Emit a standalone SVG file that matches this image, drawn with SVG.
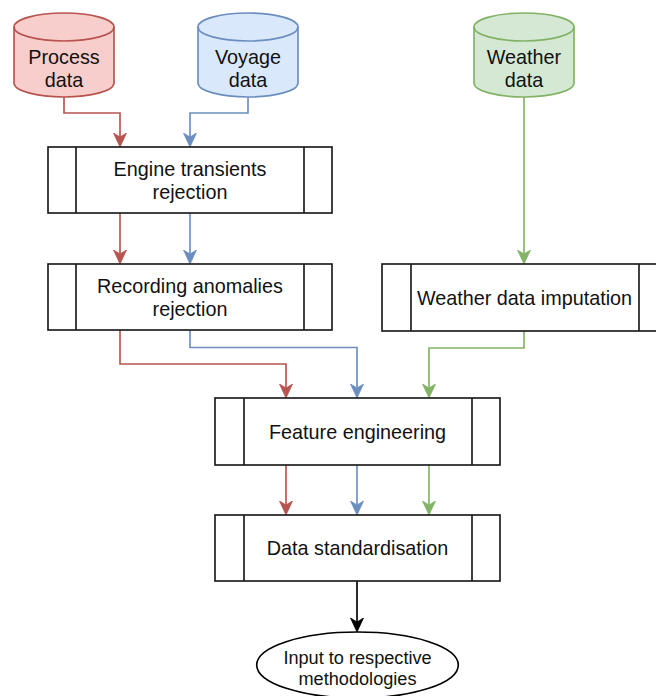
<svg xmlns="http://www.w3.org/2000/svg" width="656" height="696" viewBox="0 0 656 696">
  <style>
    .lbl { font-family: "Liberation Sans", Arial, Helvetica, sans-serif; font-size: 19.8px; fill: #111; text-anchor: middle; }
    .small { font-size: 18.15px; }
    .proc { fill: #fff; stroke: #1a1a1a; stroke-width: 1.65; }
    .edge { fill: none; stroke-width: 1.65; }
    .red { stroke: #b85450; }
    .blue { stroke: #6c8ebf; }
    .green { stroke: #82b366; }
    .black { stroke: #000; }
  </style>
  <defs>
    <marker id="arrRed" viewBox="0 0 14 14" markerUnits="userSpaceOnUse" markerWidth="14" markerHeight="14" refX="4" refY="7" orient="auto">
      <path d="M0,0.5 L14,7 L0,13.5 L4,7 Z" fill="#b85450" stroke="#b85450" stroke-width="0.8"/>
    </marker>
    <marker id="arrBlue" viewBox="0 0 14 14" markerUnits="userSpaceOnUse" markerWidth="14" markerHeight="14" refX="4" refY="7" orient="auto">
      <path d="M0,0.5 L14,7 L0,13.5 L4,7 Z" fill="#6c8ebf" stroke="#6c8ebf" stroke-width="0.8"/>
    </marker>
    <marker id="arrGreen" viewBox="0 0 14 14" markerUnits="userSpaceOnUse" markerWidth="14" markerHeight="14" refX="4" refY="7" orient="auto">
      <path d="M0,0.5 L14,7 L0,13.5 L4,7 Z" fill="#82b366" stroke="#82b366" stroke-width="0.8"/>
    </marker>
    <marker id="arrBlack" viewBox="0 0 14 14" markerUnits="userSpaceOnUse" markerWidth="14" markerHeight="14" refX="4" refY="7" orient="auto">
      <path d="M0,0.5 L14,7 L0,13.5 L4,7 Z" fill="#000" stroke="#000" stroke-width="0.8"/>
    </marker>
  </defs>

  <!-- connectors (line ends stop 10px short; the arrow tip reaches the target) -->
  <g id="connectors">
    <path class="edge red" d="M64,97 V113 H120 V137" marker-end="url(#arrRed)"/>
    <path class="edge blue" d="M248,97 V113 H190 V137" marker-end="url(#arrBlue)"/>
    <path class="edge red" d="M120,213 V254" marker-end="url(#arrRed)"/>
    <path class="edge blue" d="M190,213 V254" marker-end="url(#arrBlue)"/>
    <path class="edge green" d="M524,97 V254" marker-end="url(#arrGreen)"/>
    <path class="edge red" d="M120,330 V364 H286 V388" marker-end="url(#arrRed)"/>
    <path class="edge blue" d="M190,330 V347.5 H357 V388" marker-end="url(#arrBlue)"/>
    <path class="edge green" d="M524,331 V348 H429 V388" marker-end="url(#arrGreen)"/>
    <path class="edge red" d="M286,465 V505" marker-end="url(#arrRed)"/>
    <path class="edge blue" d="M357,465 V505" marker-end="url(#arrBlue)"/>
    <path class="edge green" d="M429,465 V505" marker-end="url(#arrGreen)"/>
    <path class="edge black" d="M357,581 V622" marker-end="url(#arrBlack)"/>
  </g>

  <!-- data sources -->
  <g id="process-data">
    <path d="M14,27 A50,14 0 0 1 114,27 L114,83 A50,14 0 0 1 14,83 Z" fill="#f8cecc" stroke="#b85450" stroke-width="1.65"/>
    <path d="M14,27 A50,14 0 0 0 114,27" fill="none" stroke="#b85450" stroke-width="1.65"/>
    <text class="lbl" x="64" y="64">Process</text>
    <text class="lbl" x="64" y="87">data</text>
  </g>
  <g id="voyage-data">
    <path d="M198,27 A50,14 0 0 1 298,27 L298,83 A50,14 0 0 1 198,83 Z" fill="#dae8fc" stroke="#6c8ebf" stroke-width="1.65"/>
    <path d="M198,27 A50,14 0 0 0 298,27" fill="none" stroke="#6c8ebf" stroke-width="1.65"/>
    <text class="lbl" x="248" y="64">Voyage</text>
    <text class="lbl" x="248" y="87">data</text>
  </g>
  <g id="weather-data">
    <path d="M474,27 A50,14 0 0 1 574,27 L574,83 A50,14 0 0 1 474,83 Z" fill="#d5e8d4" stroke="#82b366" stroke-width="1.65"/>
    <path d="M474,27 A50,14 0 0 0 574,27" fill="none" stroke="#82b366" stroke-width="1.65"/>
    <text class="lbl" x="524" y="64">Weather</text>
    <text class="lbl" x="524" y="87">data</text>
  </g>

  <!-- processing steps -->
  <g id="engine-transients">
    <rect class="proc" x="48" y="147" width="284" height="66"/>
    <path class="proc" d="M76,147 V213 M304,147 V213"/>
    <text class="lbl" x="190" y="175.5">Engine transients</text>
    <text class="lbl" x="190" y="198.5">rejection</text>
  </g>
  <g id="recording-anomalies">
    <rect class="proc" x="48" y="264" width="284" height="66"/>
    <path class="proc" d="M76,264 V330 M304,264 V330"/>
    <text class="lbl" x="190" y="292.5">Recording anomalies</text>
    <text class="lbl" x="190" y="315.5">rejection</text>
  </g>
  <g id="weather-imputation">
    <rect class="proc" x="382" y="264" width="285" height="67"/>
    <path class="proc" d="M411,264 V331 M639,264 V331"/>
    <text class="lbl" x="524.5" y="305">Weather data imputation</text>
  </g>
  <g id="feature-engineering">
    <rect class="proc" x="215" y="398" width="285" height="67"/>
    <path class="proc" d="M244,398 V465 M472,398 V465"/>
    <text class="lbl" x="357.5" y="439">Feature engineering</text>
  </g>
  <g id="data-standardisation">
    <rect class="proc" x="215" y="515" width="285" height="66"/>
    <path class="proc" d="M244,515 V581 M472,515 V581"/>
    <text class="lbl" x="357.5" y="555">Data standardisation</text>
  </g>

  <!-- output -->
  <g id="output">
    <ellipse cx="357.5" cy="665" rx="100.8" ry="33" fill="#fff" stroke="#000" stroke-width="1.65"/>
    <text class="lbl small" x="357.5" y="663.5">Input to respective</text>
    <text class="lbl small" x="357.5" y="685">methodologies</text>
  </g>
</svg>
